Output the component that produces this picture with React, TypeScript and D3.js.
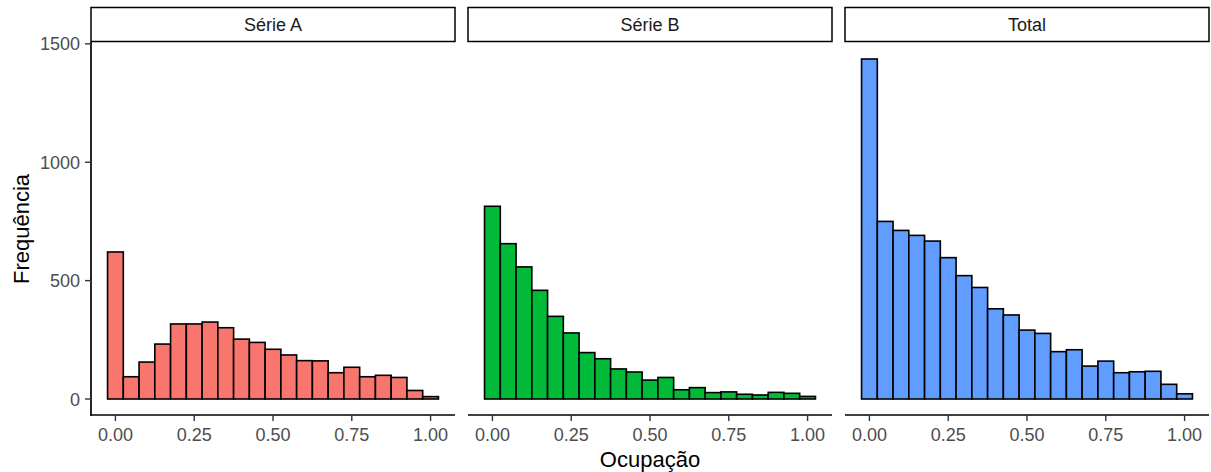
import React, { useEffect, useRef } from "react";
import * as d3 from "d3";

// bin centres (binwidth 0.05)
const binCenters = [0, 0.05, 0.1, 0.15, 0.2, 0.25, 0.3, 0.35, 0.4, 0.45, 0.5, 0.55, 0.6, 0.65, 0.7, 0.75, 0.8, 0.85, 0.9, 0.95, 1.0];
const serieA = [621, 94, 156, 232, 317, 317, 325, 301, 253, 239, 210, 186, 162, 161, 111, 134, 94, 100, 91, 36, 10];
const serieB = [814, 656, 558, 459, 349, 279, 196, 170, 127, 114, 80, 91, 39, 48, 27, 30, 20, 17, 28, 24, 11];
const total = [1436, 750, 712, 691, 667, 597, 521, 471, 381, 355, 291, 277, 200, 208, 139, 160, 111, 115, 117, 62, 22];

const panelNames = ["Série A", "Série B", "Total"];
const panelColors = ["#F8766D", "#00BA38", "#619CFF"];
const yTicks = [0, 500, 1000, 1500];
const xTicks = [0, 0.25, 0.5, 0.75, 1.0];
const binWidth = 0.05;

const FONT = "'Liberation Sans', Arial, sans-serif";

export default function App() {
  const ref = useRef<SVGSVGElement>(null);

  useEffect(() => {
    const svg = d3.select(ref.current);
    svg.selectAll("*").remove();

    const series = [serieA, serieB, total];
    const panelLeft = [91, 468, 845];
    const panelW = 364;
    const top = 42;
    const bottom = 416;

    const ymax = d3.max(series.flat()) as number;
    const y = d3.scaleLinear().domain([-0.05 * ymax, 1.05 * ymax]).range([bottom, top]);

    series.forEach((vals, p) => {
      const x0 = panelLeft[p];
      const x = d3.scaleLinear()
        .domain([-0.025 - 0.0525, 1.025 + 0.0525])
        .range([x0, x0 + panelW]);

      const g = svg.append("g");

      // strip
      g.append("rect")
        .attr("x", x0)
        .attr("y", 7.5)
        .attr("width", panelW)
        .attr("height", 34)
        .attr("fill", "white")
        .attr("stroke", "black")
        .attr("stroke-width", 1.5);
      g.append("text")
        .attr("x", x0 + panelW / 2)
        .attr("y", 31)
        .attr("text-anchor", "middle")
        .attr("font-family", FONT)
        .attr("font-size", 18)
        .attr("fill", "#1A1A1A")
        .text(panelNames[p]);

      // bars
      g.append("g")
        .selectAll("rect")
        .data(vals)
        .join("rect")
          .attr("x", (d, i) => x(binCenters[i] - binWidth / 2))
          .attr("y", d => y(d))
          .attr("width", (d, i) => x(binCenters[i] + binWidth / 2) - x(binCenters[i] - binWidth / 2))
          .attr("height", d => y(0) - y(d))
          .attr("fill", panelColors[p])
          .attr("stroke", "black")
          .attr("stroke-width", 1.6);

      // x axis
      const xa = g.append("g").attr("transform", `translate(0,${bottom - 1})`);
      xa.append("line")
        .attr("x1", x0).attr("x2", x0 + panelW)
        .attr("stroke", "black").attr("stroke-width", 1.7);
      xa.selectAll("line.tick")
        .data(xTicks)
        .join("line")
          .attr("class", "tick")
          .attr("x1", d => x(d)).attr("x2", d => x(d))
          .attr("y1", 0).attr("y2", 6)
          .attr("stroke", "#333").attr("stroke-width", 1.4);
      xa.selectAll("text")
        .data(xTicks)
        .join("text")
          .attr("x", d => x(d))
          .attr("y", 26)
          .attr("text-anchor", "middle")
          .attr("font-family", FONT)
          .attr("font-size", 18)
          .attr("fill", "#4D4D4D")
          .text(d => d3.format(".2f")(d));
    });

    // y axis (first panel only)
    const ya = svg.append("g");
    ya.append("line")
      .attr("x1", 91).attr("x2", 91)
      .attr("y1", top).attr("y2", bottom)
      .attr("stroke", "black").attr("stroke-width", 1.7);
    ya.selectAll("line.tick")
      .data(yTicks)
      .join("line")
        .attr("class", "tick")
        .attr("x1", 85).attr("x2", 91)
        .attr("y1", d => y(d)).attr("y2", d => y(d))
        .attr("stroke", "#333").attr("stroke-width", 1.4);
    ya.selectAll("text")
      .data(yTicks)
      .join("text")
        .attr("x", 80)
        .attr("y", d => y(d) + 6.5)
        .attr("text-anchor", "end")
        .attr("font-family", FONT)
        .attr("font-size", 18)
        .attr("fill", "#4D4D4D")
        .text(d => d);

    // axis titles
    svg.append("text")
      .attr("x", (91 + 845 + 364) / 2)
      .attr("y", 467)
      .attr("text-anchor", "middle")
      .attr("font-family", FONT)
      .attr("font-size", 22)
      .attr("fill", "black")
      .text("Ocupação");
    svg.append("text")
      .attr("transform", `translate(29,${(top + bottom) / 2}) rotate(-90)`)
      .attr("text-anchor", "middle")
      .attr("font-family", FONT)
      .attr("font-size", 22)
      .attr("fill", "black")
      .text("Frequência");
  }, []);

  return (
    <svg
      ref={ref}
      width={1211}
      height={472}
      style={{ position: "absolute", left: 0, top: 0, background: "white" }}
    />
  );
}
